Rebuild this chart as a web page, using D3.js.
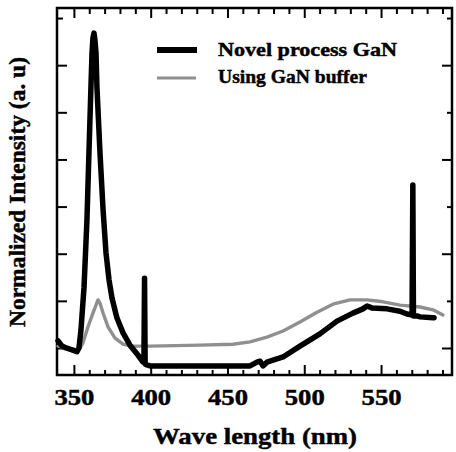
<!DOCTYPE html>
<html><head><meta charset="utf-8">
<script src="https://cdn.jsdelivr.net/npm/d3@7"></script>
<style>html,body{margin:0;padding:0;background:#fff;} svg{display:block;} text{stroke:#000;stroke-width:0.45px;}</style>
</head><body><svg id="c" width="456" height="452"></svg>
<script>
// ---- data ----
const seriesNames = ["Novel process GaN", "Using GaN buffer"];

const novelWavelength = [339.7, 342.3, 344.9, 348.8, 352.0, 353.3, 354.6, 356.6, 358.5, 359.8, 361.1, 361.8, 362.4, 363.1, 363.7, 364.4, 365.0, 367.0, 369.0, 370.9, 372.9, 374.8, 378.0, 382.0, 386.5, 391.7, 395.0, 395.6, 396.0, 396.4, 397.6, 399.6, 432.1, 453.6, 464.7, 469.2, 471.2, 473.1, 475.7, 486.2, 497.2, 510.2, 521.3, 531.7, 538.2, 540.9, 544.0, 553.9, 562.3, 566.9, 570.2, 570.7, 571.1, 573.4, 575.4, 583.8, 584.5];
const novelIntensity  = [0.15, 0.04, 0.00, -0.04, -0.08, 0.00, 0.38, 1.29, 2.72, 4.14, 5.54, 6.26, 6.58, 6.68, 6.53, 6.26, 5.54, 4.14, 2.93, 2.02, 1.44, 1.06, 0.64, 0.32, 0.06, -0.15, -0.30, -0.30, 1.48, -0.34, -0.36, -0.38, -0.38, -0.38, -0.38, -0.30, -0.28, -0.38, -0.30, -0.19, 0.04, 0.30, 0.57, 0.74, 0.83, 0.89, 0.85, 0.83, 0.78, 0.72, 0.70, 3.46, 0.68, 0.68, 0.66, 0.64, 0.64];

const bufferWavelength = [339.7, 344.9, 348.8, 352.0, 354.0, 355.9, 359.2, 362.4, 364.4, 365.7, 367.0, 369.0, 372.2, 376.8, 382.0, 388.5, 399.6, 432.1, 453.6, 464.7, 475.7, 486.2, 497.2, 508.3, 518.7, 529.8, 540.9, 551.3, 562.3, 575.4, 583.8, 590.3];
const bufferIntensity  = [0.04, 0.00, -0.02, -0.04, 0.00, 0.11, 0.45, 0.74, 0.91, 1.02, 0.95, 0.74, 0.45, 0.21, 0.08, 0.04, 0.04, 0.06, 0.08, 0.13, 0.23, 0.36, 0.55, 0.76, 0.93, 1.02, 1.02, 0.98, 0.91, 0.87, 0.81, 0.70];

const xTickValues = [350, 360, 370, 380, 390, 400, 410, 420, 430, 440, 450, 460, 470, 480, 490, 500, 510, 520, 530, 540, 550, 560, 570, 580, 590];
const xTickLabels = [350, 400, 450, 500, 550];
const yTickValues = [0, 1, 2, 3, 4, 5, 6, 7];
const xDomain = [339, 596.2];
const yDomain = [-0.573, 7.213];

// ---- layout ----
const L = 57, R = 452, T = 8, B = 375;
const FONT = "'Liberation Serif','Times New Roman',serif";
const svg = d3.select("#c");
const x = d3.scaleLinear().domain(xDomain).range([L, R]);
const y = d3.scaleLinear().domain(yDomain).range([B, T]);

// ---- axes ----
const gBottom = svg.append("g").attr("transform", `translate(0,${B})`)
  .call(d3.axisBottom(x).tickValues(xTickValues).tickSizeOuter(0)
    .tickFormat(d => xTickLabels.includes(d) ? String(d) : ""));
gBottom.select(".domain").remove();
gBottom.selectAll(".tick line").attr("y2", d => d % 50 === 0 ? -10 : -5)
  .attr("stroke", "#000").attr("stroke-width", 2);
gBottom.selectAll(".tick text").attr("y", 30).attr("dy", 0)
  .style("font-family", FONT).style("font-weight", "bold").style("font-size", "23px")
  .attr("fill", "#000")
  .each(function(d){ if (xTickLabels.includes(d)) d3.select(this).attr("textLength", 40).attr("lengthAdjust", "spacingAndGlyphs"); });

const gTop = svg.append("g").attr("transform", `translate(0,${T})`)
  .call(d3.axisTop(x).tickValues(xTickValues).tickSizeOuter(0).tickFormat(""));
gTop.select(".domain").remove();
gTop.selectAll(".tick line").attr("y2", d => d % 50 === 0 ? 10 : 6)
  .attr("stroke", "#000").attr("stroke-width", 2);

const gLeft = svg.append("g").attr("transform", `translate(${L},0)`)
  .call(d3.axisLeft(y).tickValues(yTickValues).tickSizeOuter(0).tickFormat(""));
gLeft.select(".domain").remove();
gLeft.selectAll(".tick line").attr("x2", d => d === 7 ? 6 : 10)
  .attr("stroke", "#000").attr("stroke-width", 2);

const gRight = svg.append("g").attr("transform", `translate(${R},0)`)
  .call(d3.axisRight(y).tickValues(yTickValues).tickSizeOuter(0).tickFormat(""));
gRight.select(".domain").remove();
gRight.selectAll(".tick line").attr("x2", d => d % 2 === 0 ? -10 : -5)
  .attr("stroke", "#000").attr("stroke-width", 2);

svg.append("rect").attr("x", L).attr("y", T).attr("width", R - L).attr("height", B - T)
  .attr("fill", "none").attr("stroke", "#000").attr("stroke-width", 2.5);

// ---- series ----
const line = d3.line().x(d => x(d[0])).y(d => y(d[1]));
const buffer = bufferWavelength.map((w, i) => [w, bufferIntensity[i]]);
const novel = novelWavelength.map((w, i) => [w, novelIntensity[i]]);

svg.append("path").datum(buffer).attr("d", line)
  .attr("fill", "none").attr("stroke", "#8f8f8f").attr("stroke-width", 3.4)
  .attr("stroke-linejoin", "round").attr("stroke-linecap", "round");
svg.append("path").datum(novel).attr("d", line)
  .attr("fill", "none").attr("stroke", "#000").attr("stroke-width", 5.5)
  .attr("stroke-linejoin", "round").attr("stroke-linecap", "round");

// ---- legend ----
const legend = svg.append("g");
legend.append("line").attr("x1", 157).attr("x2", 197).attr("y1", 50).attr("y2", 50)
  .attr("stroke", "#000").attr("stroke-width", 6);
legend.append("line").attr("x1", 157).attr("x2", 196).attr("y1", 78).attr("y2", 78)
  .attr("stroke", "#8f8f8f").attr("stroke-width", 3);
legend.append("text").attr("x", 218).attr("y", 56).text(seriesNames[0])
  .attr("textLength", 179).attr("lengthAdjust", "spacingAndGlyphs")
  .style("font-family", FONT).style("font-weight", "bold").style("font-size", "19.5px");
legend.append("text").attr("x", 218).attr("y", 83).text(seriesNames[1])
  .attr("textLength", 149).attr("lengthAdjust", "spacingAndGlyphs")
  .style("font-family", FONT).style("font-weight", "bold").style("font-size", "19.5px");

// ---- titles ----
svg.append("text").attr("x", 255).attr("y", 444).attr("text-anchor", "middle")
  .text("Wave length (nm)").attr("textLength", 204).attr("lengthAdjust", "spacingAndGlyphs")
  .style("font-family", FONT).style("font-weight", "bold").style("font-size", "24px");
svg.append("text").attr("transform", "translate(25,192) rotate(-90)").attr("text-anchor", "middle")
  .text("Normalized Intensity (a. u)").attr("textLength", 270).attr("lengthAdjust", "spacingAndGlyphs")
  .style("font-family", FONT).style("font-weight", "bold").style("font-size", "22.5px");
</script>
</body></html>
